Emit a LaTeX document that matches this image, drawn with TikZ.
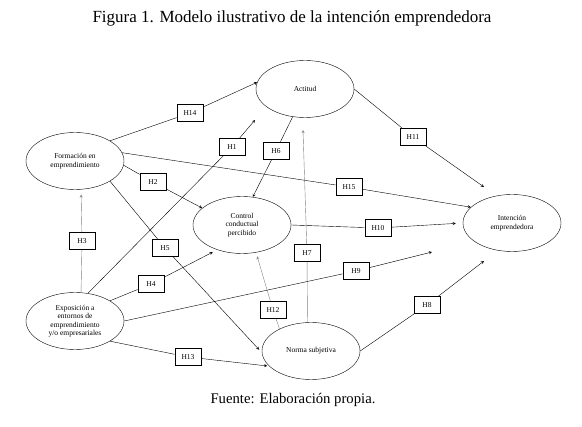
\documentclass[tikz,border=0pt]{standalone}
\usepackage{fontspec}
\setmainfont{Liberation Serif}
\usetikzlibrary{shapes.geometric}
\tikzset{
  constructo/.style={draw, ellipse, minimum width=98pt, minimum height=57pt, inner sep=0pt, align=center, font=\fontsize{7.5}{8.5}\selectfont},
  hipotesis/.style={draw, thick, fill=white, minimum width=26pt, minimum height=17pt, inner sep=1pt, font=\fontsize{7.5}{9}\selectfont},
  gris/.style={gray},
}
\begin{document}
\begin{tikzpicture}[>=stealth, x=1pt, y=-1pt]
        \useasboundingbox (0,0) rectangle (582,427);
        \node (titulo) at (292,18) {\fontsize{17}{19}\selectfont Figura 1. Modelo ilustrativo de la intención emprendedora};
        \node (fuente) at (293,400) {\fontsize{14.7}{16}\selectfont Fuente: Elaboración propia.};
        % constructos
        \node[constructo] (actitud) at (305,89) {Actitud};
        \node[constructo] (formacion) at (75,161) {Formación en\\emprendimiento};
        \node[constructo] (control) at (242,225) {Control\\conductual\\percibido};
        \node[constructo] (intencion) at (512,223) {Intención\\emprendedora};
        \node[constructo] (exposicion) at (75,321) {Exposición a\\entornos de\\emprendimiento\\y/o empresariales};
        \node[constructo] (norma) at (311,351) {Norma subjetiva};
        % puntas sueltas
        \coordinate (pH1) at (255,120);
        \coordinate (pH7) at (303,130);
        \coordinate (pH8) at (484,261);
        \coordinate (pH9) at (432,252);
        \coordinate (pH11) at (484,187);
        % hipotesis
        \node[hipotesis] (h14) at (190,113) {H14};
        \node[hipotesis] (h1) at (232,147) {H1};
        \node[hipotesis] (h6) at (276,151) {H6};
        \node[hipotesis] (h2) at (153,182) {H2};
        \node[hipotesis] (h11) at (413,137) {H11};
        \node[hipotesis] (h15) at (349,187) {H15};
        \node[hipotesis] (h10) at (378,228) {H10};
        \node[hipotesis] (h3) at (82,241) {H3};
        \node[hipotesis] (h5) at (165,248) {H5};
        \node[hipotesis] (h4) at (151,284) {H4};
        \node[hipotesis] (h12) at (273,310) {H12};
        \node[hipotesis] (h13) at (188,357) {H13};
        \node[hipotesis] (h7) at (307,253) {H7};
        \node[hipotesis] (h9) at (356,271) {H9};
        \node[hipotesis] (h8) at (427,305) {H8};
        % relaciones
        \draw (formacion.30) -- (h14);
        \draw[->] (h14) -- (actitud.172);
        \draw (exposicion.65) -- (h1);
        \draw[->] (h1) -- (pH1);
        \draw (actitud.246) -- (h6);
        \draw[->] (h6) -- (control.69);
        \draw (formacion.-5) -- (h2);
        \draw[->] (h2) -- (control.157);
        \draw (actitud.0) -- (h11);
        \draw[->] (h11) -- (pH11);
        \draw (formacion.10) -- (h15);
        \draw[->] (h15) -- (intencion.159);
        \draw (control.east) -- (h10);
        \draw[->,shorten >=7pt] (h10) -- (intencion.west);
        \draw[gris] (exposicion.78) -- (h3);
        \draw[gris,->,shorten >=5pt] (h3) -- (formacion.282);
        \draw (formacion.-30) -- (h5);
        \draw[->,shorten >=4pt] (h5) -- (norma.182);
        \draw (exposicion.30) -- (h4);
        \draw[->,shorten >=5pt] (h4) -- (control.225);
        \draw[gris] (norma.145) -- (h12);
        \draw[gris,->,shorten >=4pt] (h12) -- (control.297);
        \draw (exposicion.-30) -- (h13);
        \draw[->,shorten >=2pt] (h13) -- (norma.200);
        \draw[gris] (norma.97) -- (h7);
        \draw[gris,->] (h7) -- (pH7);
        \draw (exposicion.east) -- (h9);
        \draw[->] (h9) -- (pH9);
        \draw (norma.east) -- (h8);
        \draw[->] (h8) -- (pH8);
    \end{tikzpicture}
\end{document}
